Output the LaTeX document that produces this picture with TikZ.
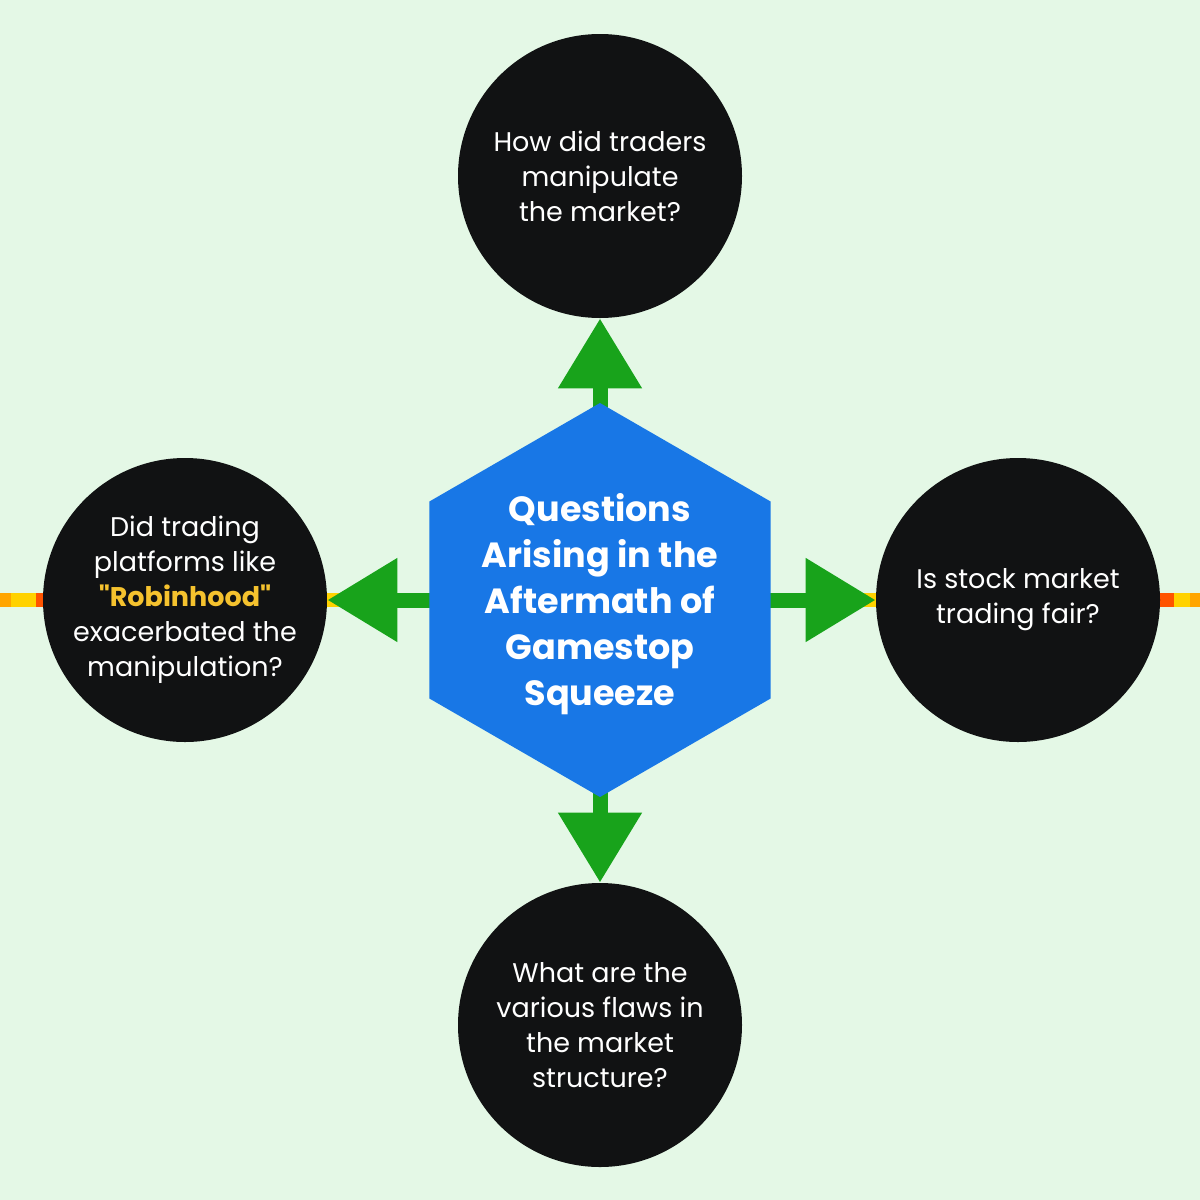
\documentclass[tikz,border=0pt]{standalone}
\usepackage{fontspec}
\setmainfont{Poppins}
\newfontfamily\plainquote{Poppins}[Ligatures=TeXOff]
\usetikzlibrary{shapes.geometric,arrows.meta}
\definecolor{bgc}{HTML}{E4F8E6}
\definecolor{gr}{HTML}{18A31B}
\definecolor{bl}{HTML}{1877E6}
\definecolor{bk}{HTML}{111213}
\definecolor{robin}{HTML}{F5C22E}
\definecolor{byel}{HTML}{FFD200}
\definecolor{bora}{HTML}{FFA500}
\definecolor{bred}{HTML}{FF5400}
\tikzset{
  qcircle/.style={circle, fill=bk, minimum size=142pt, inner sep=0pt, text=white,
    align=center, font=\fontsize{13.5}{17.5}\selectfont},
  hexa/.style={regular polygon, regular polygon sides=6, shape border rotate=30,
    fill=bl, minimum size=197pt, inner sep=0pt},
  titletext/.style={text=white, align=center, font=\bfseries\fontsize{17.5}{23}\selectfont},
  garrow/.style={draw=gr, line width=7.5pt, -{Triangle[width=40pt,length=35pt,fill=gr,color=gr]}},
  band/.style={line width=7pt}
}
\begin{document}
\begin{tikzpicture}[x=0.5pt,y=-0.5pt]
\fill[bgc] (0,0) rectangle (1200,1200);
\useasboundingbox (0,0) rectangle (1200,1200);
% band
\coordinate (bl0) at (0,600);
\coordinate (bl1) at (11,600);
\coordinate (bl2) at (36,600);
\coordinate (bl3) at (60,600);
\coordinate (br0) at (1200,600);
\coordinate (br1) at (1190,600);
\coordinate (br2) at (1174,600);
\coordinate (br3) at (1140,600);
\draw[band, byel] (bl0) -- (br0);
\draw[band, bora] (bl0) -- (bl1);
\draw[band, bred] (bl2) -- (bl3);
\draw[band, bora] (br0) -- (br1);
\draw[band, bred] (br2) -- (br3);
% nodes
\node[qcircle] (top) at (600,176) {How did traders\\manipulate\\the market?};
\node[qcircle] (left) at (185,600) {Did trading\\platforms like\\{\plainquote\bfseries\color{robin}"Robinhood"}\\exacerbated the\\manipulation?};
\node[qcircle] (right) at (1018,600) {Is stock market\\trading fair?};
\node[qcircle] (bottom) at (600,1025) {What are the\\various flaws in\\the market\\structure?};
\coordinate (hc) at (600,600);
% arrows
\draw[garrow] (hc) -- (top.south);
\draw[garrow] (hc) -- (left.east);
\draw[garrow] (hc) -- (right.west);
\draw[garrow] (hc) -- (bottom.north);
\node[hexa] (hex) at (hc) {};
\node[titletext] (title) at (600,604) {Questions\\Arising in the\\Aftermath of\\Gamestop\\Squeeze};
\end{tikzpicture}
\end{document}
